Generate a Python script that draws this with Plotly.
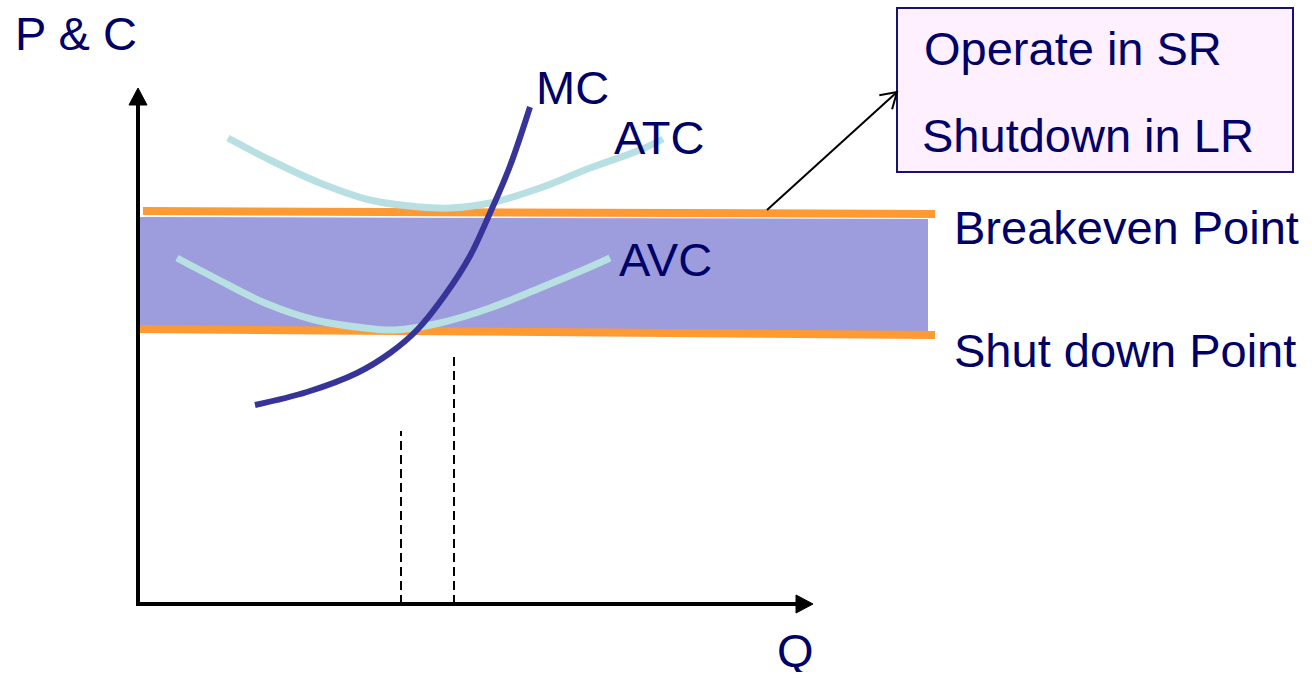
import numpy as np
import plotly.graph_objects as go

# Cost curves: quantity (Q) and price/cost (P) in diagram units
mc_q = [117, 169, 219, 252, 279, 307, 332, 352, 372, 392]
mc_p = [199, 212, 231, 251, 274, 309, 348, 391, 438, 497]

atc_q = [90, 132, 182, 232, 282, 312, 352, 402, 452, 502, 525]
atc_p = [466, 444, 421, 404, 397, 396, 401, 416, 436, 454, 465]

avc_q = [39, 77, 127, 177, 227, 257, 302, 352, 402, 452, 472]
avc_p = [346, 326, 301, 284, 276, 274, 281, 296, 316, 337, 346]

# Price lines
breakeven_q = [5, 797]
breakeven_p = [393, 390]
shutdown_q = [-1, 797]
shutdown_p = [275, 269]

# Shaded region between the two price lines
band_q = [2, 790, 790, 2]
band_p = [387, 385, 271, 275]

# Quantity guides (x position, top of dashed line)
guide_q = [263, 316]
guide_top = [173, 252]

# Axis extents
q_axis_end = 675
p_axis_end = 516

# Callout box and arrow
box_q = [759, 1155]
box_p = [432, 596]
callout_from = (629, 394)
callout_to = (759, 512)

NAVY = "#000066"
FONT = "Liberation Sans, Arial, sans-serif"
FS = 47

labels = [
    ("P & C", 14, 33.5),
    ("MC", 535, 87),
    ("ATC", 613, 137),
    ("AVC", 618, 259),
    ("Breakeven Point", 953, 227),
    ("Shut down Point", 953, 350),
    ("Q", 776, 650),
    ("Operate in SR", 923, 48),
    ("Shutdown in LR", 921, 135),
]

ORIGIN_X, ORIGIN_Y = 138, 604  # pixel location of the origin

fig = go.Figure()

fig.add_trace(go.Scatter(x=band_q, y=band_p, fill="toself", mode="lines",
                         line=dict(width=0), fillcolor="#9D9CDC", hoverinfo="skip"))
fig.add_trace(go.Scatter(x=breakeven_q, y=breakeven_p, mode="lines",
                         line=dict(color="#FF9A33", width=8)))
fig.add_trace(go.Scatter(x=shutdown_q, y=shutdown_p, mode="lines",
                         line=dict(color="#FF9A33", width=8)))
fig.add_trace(go.Scatter(x=atc_q, y=atc_p, mode="lines", line_shape="spline",
                         line=dict(color="#B8E0E2", width=7)))
fig.add_trace(go.Scatter(x=avc_q, y=avc_p, mode="lines", line_shape="spline",
                         line=dict(color="#B8E0E2", width=7)))
fig.add_trace(go.Scatter(x=mc_q, y=mc_p, mode="lines", line_shape="spline",
                         line=dict(color="#363399", width=6)))

shapes = []
# Axes with filled arrowheads
shapes.append(dict(type="line", x0=0, y0=-1, x1=0, y1=p_axis_end - 14,
                   line=dict(color="black", width=4)))
shapes.append(dict(type="path",
                   path=f"M -9,{p_axis_end-17} L 0,{p_axis_end} L 9,{p_axis_end-17} Z",
                   fillcolor="black", line=dict(color="black", width=1)))
shapes.append(dict(type="line", x0=-2, y0=0, x1=q_axis_end - 14, y1=0,
                   line=dict(color="black", width=4)))
shapes.append(dict(type="path",
                   path=f"M {q_axis_end-17},-9 L {q_axis_end},0 L {q_axis_end-17},9 Z",
                   fillcolor="black", line=dict(color="black", width=1)))

# Dashed quantity guides
for q, top in zip(guide_q, guide_top):
    shapes.append(dict(type="line", x0=q, y0=0, x1=q, y1=top,
                       line=dict(color="black", width=2, dash="9px,5px")))

# Callout box
shapes.append(dict(type="rect", x0=box_q[0], x1=box_q[1], y0=box_p[0], y1=box_p[1],
                   fillcolor="#FFF0FF", line=dict(color="#14146E", width=2)))

# Callout arrow with open head
(sx, sy), (tx, ty) = callout_from, callout_to
shapes.append(dict(type="line", x0=sx, y0=sy, x1=tx, y1=ty,
                   line=dict(color="black", width=2)))
d = np.array([tx - sx, ty - sy], dtype=float)
d /= np.linalg.norm(d)
arms = []
for ang in (np.radians(32), -np.radians(32)):
    rot = np.array([[np.cos(ang), -np.sin(ang)], [np.sin(ang), np.cos(ang)]])
    v = rot @ (-d) * 18
    arms.append((tx + v[0], ty + v[1]))
shapes.append(dict(type="path",
                   path=f"M {arms[0][0]:.1f},{arms[0][1]:.1f} L {tx},{ty} L {arms[1][0]:.1f},{arms[1][1]:.1f}",
                   line=dict(color="black", width=2)))

annotations = []
for text, px, py in labels:
    ann = dict(text=text, x=px - ORIGIN_X, y=ORIGIN_Y - py,
               xref="x", yref="y", xanchor="left", yanchor="middle",
               showarrow=False, borderpad=0,
               font=dict(family=FONT, size=FS, color=NAVY))
    if text == "Q":
        # keep the label box inside the bottom edge
        ann["height"] = 44
    annotations.append(ann)

fig.update_layout(
    width=1312, height=678,
    margin=dict(l=0, r=0, t=0, b=0),
    paper_bgcolor="white", plot_bgcolor="white",
    showlegend=False,
    xaxis=dict(range=[-ORIGIN_X, 1312 - ORIGIN_X], visible=False, fixedrange=True),
    yaxis=dict(range=[ORIGIN_Y - 678, ORIGIN_Y], visible=False, fixedrange=True),
    shapes=shapes,
    annotations=annotations,
)

fig.write_html("out.html")
